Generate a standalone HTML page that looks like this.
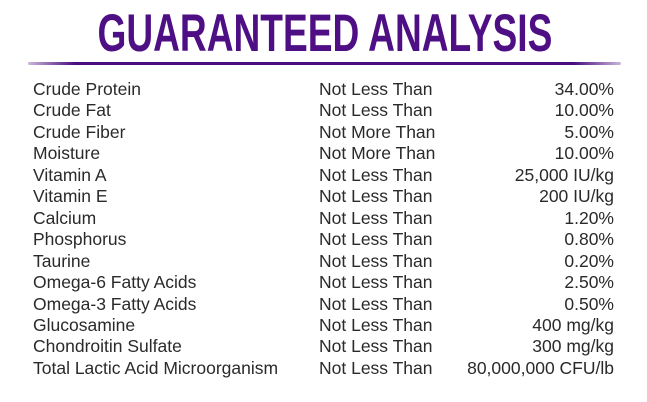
<!DOCTYPE html>
<html><head><meta charset="utf-8"><style>
body{margin:0;width:647px;height:402px;background:#fff;overflow:hidden;position:relative;font-family:"Liberation Sans",sans-serif}
.title{position:absolute;left:0;width:647px;top:4px;text-align:center;font-weight:bold;font-size:53px;line-height:60px;color:#4e0f84;white-space:nowrap}
.title span{display:inline-block;transform:scaleX(0.7);transform-origin:center;white-space:nowrap}
.rule{position:absolute;left:28px;width:593px;top:62px;height:3px;background:linear-gradient(90deg,rgba(75,12,126,0.3),#4b0c7e 8%,#4b0c7e 92%,rgba(75,12,126,0.3));border-radius:2px}
.row{position:absolute;left:0;width:647px;height:21.45px;line-height:21.45px;font-size:17.5px;color:#2a2a2a}
.c{position:absolute;top:0;white-space:nowrap}
.l{left:33px}
.m{left:319px}
.r{right:33px}
</style></head><body>
<div class="title"><span>GUARANTEED ANALYSIS</span></div>
<div class="rule"></div>
<div id="table"></div>
<script>
const nutrients=["Crude Protein","Crude Fat","Crude Fiber","Moisture","Vitamin A","Vitamin E","Calcium","Phosphorus","Taurine","Omega-6 Fatty Acids","Omega-3 Fatty Acids","Glucosamine","Chondroitin Sulfate","Total Lactic Acid Microorganism"];
const qualifiers=["Not Less Than","Not Less Than","Not More Than","Not More Than","Not Less Than","Not Less Than","Not Less Than","Not Less Than","Not Less Than","Not Less Than","Not Less Than","Not Less Than","Not Less Than","Not Less Than"];
const amounts=["34.00%","10.00%","5.00%","10.00%","25,000 IU/kg","200 IU/kg","1.20%","0.80%","0.20%","2.50%","0.50%","400 mg/kg","300 mg/kg","80,000,000 CFU/lb"];
const t=document.getElementById('table');
nutrients.forEach((n,i)=>{
  const row=document.createElement('div');
  row.className='row';
  row.style.top=(79+i*21.45)+'px';
  
  
  const a=document.createElement('div');a.className='c l';a.textContent=n;
  
  
  const b=document.createElement('div');b.className='c m';b.textContent=qualifiers[i];
  
  
  const c=document.createElement('div');c.className='c r';c.textContent=amounts[i];
  
  
  row.append(a,b,c);t.appendChild(row);
});
</script>
</body></html>
